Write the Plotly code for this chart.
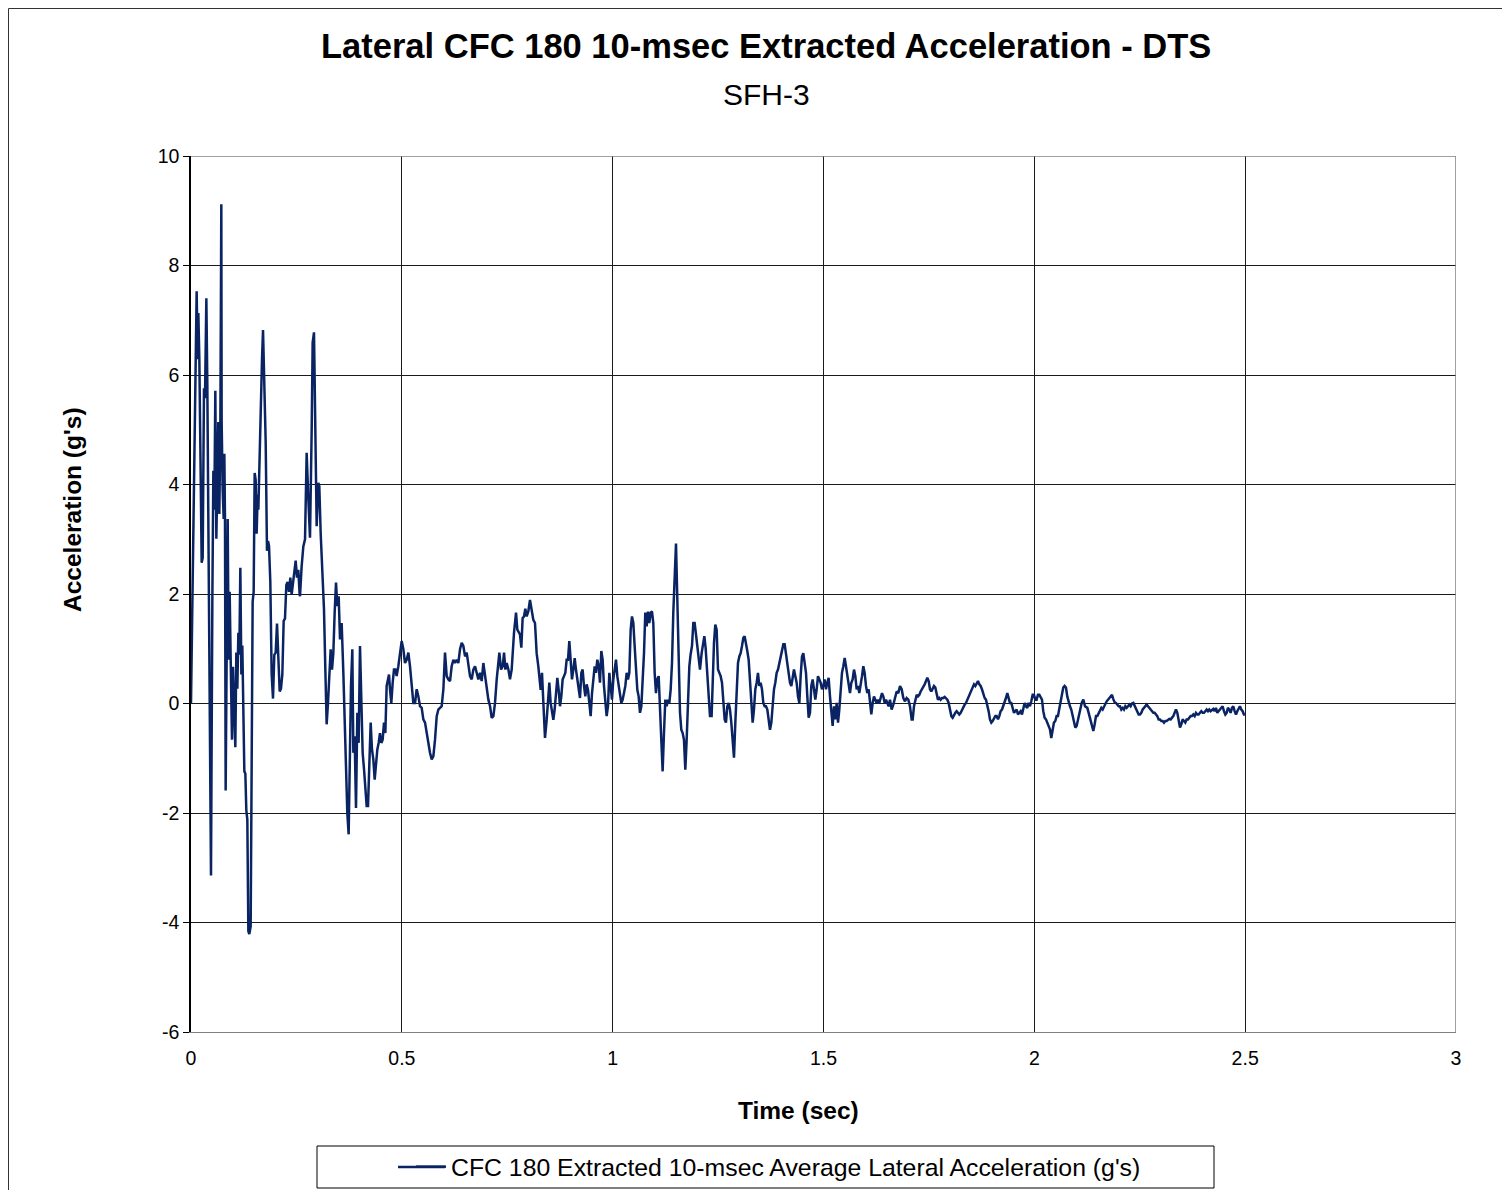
import plotly.graph_objects as go

# ---- data (time in s, acceleration in g) ----
time_s = [
    0.0, 0.0134, 0.0158, 0.0174, 0.0198, 0.0221, 0.0253, 0.0277, 0.0308, 0.0332,
    0.0364, 0.0387, 0.0427, 0.0451, 0.0474, 0.0506, 0.0530, 0.0553, 0.0577, 0.0601,
    0.0625, 0.0648, 0.0672, 0.0696, 0.0719, 0.0727, 0.0751, 0.0775, 0.0791, 0.0806,
    0.0822, 0.0846, 0.0870, 0.0893, 0.0917, 0.0941, 0.0972, 0.0996, 0.1028, 0.1051,
    0.1075, 0.1099, 0.1123, 0.1146, 0.1170, 0.1194, 0.1217, 0.1265, 0.1289, 0.1312,
    0.1336, 0.1360, 0.1383, 0.1415, 0.1462, 0.1486, 0.1510, 0.1534, 0.1557, 0.1581,
    0.1597, 0.1628, 0.1660, 0.1684, 0.1708, 0.1739, 0.1771, 0.1802, 0.1826, 0.1850,
    0.1881, 0.1913, 0.1945, 0.1976, 0.2008, 0.2040, 0.2071, 0.2103, 0.2134, 0.2166,
    0.2198, 0.2229, 0.2261, 0.2292, 0.2324, 0.2356, 0.2387, 0.2419, 0.2451, 0.2482,
    0.2514, 0.2545, 0.2577,
    0.2585, 0.2624, 0.2664, 0.2704, 0.2743, 0.2783, 0.2822, 0.2862, 0.2885, 0.2917,
    0.2941, 0.2980, 0.3020, 0.3043, 0.3075, 0.3114, 0.3154, 0.3186, 0.3217, 0.3249,
    0.3281, 0.3312, 0.3344, 0.3376, 0.3407, 0.3439, 0.3470, 0.3502, 0.3534, 0.3573,
    0.3613, 0.3644, 0.3676, 0.3707, 0.3739, 0.3771, 0.3794, 0.3826, 0.3850, 0.3881,
    0.3913, 0.3945, 0.3976, 0.4008, 0.4040, 0.4071, 0.4103, 0.4134, 0.4166, 0.4198,
    0.4229, 0.4261, 0.4292, 0.4324, 0.4356, 0.4387, 0.4419, 0.4450, 0.4482, 0.4514,
    0.4545, 0.4577, 0.4609, 0.4640, 0.4672, 0.4696, 0.4719, 0.4751, 0.4783, 0.4814,
    0.4846, 0.4877, 0.4917, 0.4957, 0.4996, 0.5036, 0.5075, 0.5115, 0.5155, 0.5194,
    0.5234, 0.5273, 0.5313, 0.5352, 0.5392, 0.5431, 0.5471, 0.5510, 0.5550, 0.5589,
    0.5629, 0.5668, 0.5708, 0.5748, 0.5787, 0.5827, 0.5866, 0.5906, 0.5945, 0.5985,
    0.6024, 0.6064, 0.6103, 0.6143, 0.6182, 0.6222, 0.6261, 0.6301, 0.6340, 0.6380,
    0.6420, 0.6459, 0.6499, 0.6538, 0.6578, 0.6617, 0.6657, 0.6696, 0.6736, 0.6775,
    0.6815, 0.6854, 0.6894, 0.6933, 0.6973, 0.7013, 0.7052, 0.7092, 0.7131, 0.7171,
    0.7210, 0.7250, 0.7289, 0.7313, 0.7352, 0.7392, 0.7424, 0.7456, 0.7487, 0.7527,
    0.7565, 0.7605, 0.7660, 0.7708, 0.7739, 0.7802, 0.7834, 0.7865, 0.7897, 0.7929,
    0.7960, 0.8000, 0.8039, 0.8079, 0.8118, 0.8158, 0.8197, 0.8237, 0.8261, 0.8292,
    0.8324, 0.8356, 0.8395, 0.8435, 0.8466, 0.8498, 0.8529, 0.8561, 0.8593, 0.8624,
    0.8656, 0.8688, 0.8719, 0.8751, 0.8782, 0.8814, 0.8846, 0.8877, 0.8909, 0.8941,
    0.8972, 0.9004, 0.9035, 0.9067, 0.9099, 0.9130, 0.9162, 0.9193, 0.9225, 0.9257,
    0.9288, 0.9320, 0.9352, 0.9383, 0.9415, 0.9446, 0.9478, 0.9510, 0.9541, 0.9573,
    0.9604, 0.9636, 0.9668, 0.9699, 0.9731, 0.9762, 0.9794, 0.9826, 0.9857, 0.9889,
    0.9921, 0.9952, 0.9984, 1.0015, 1.0047, 1.0079, 1.0110, 1.0142, 1.0174, 1.0205,
    1.0237, 1.0268, 1.0300, 1.0332, 1.0363, 1.0395, 1.0427, 1.0458, 1.0490, 1.0521,
    1.0553, 1.0585, 1.0616, 1.0648, 1.0680, 1.0711, 1.0743, 1.0774, 1.0806, 1.0838,
    1.0869, 1.0901, 1.0932, 1.0964, 1.0996, 1.1027, 1.1059, 1.1091, 1.1122, 1.1154,
    1.1185, 1.1217, 1.1249, 1.1280, 1.1312, 1.1344, 1.1375, 1.1407, 1.1438, 1.1502,
    1.1533, 1.1565, 1.1597, 1.1628, 1.1660, 1.1691, 1.1723, 1.1755, 1.1786, 1.1818,
    1.1849, 1.1881, 1.1913, 1.1944, 1.1976, 1.2008, 1.2039,
    1.2071, 1.2110, 1.2150, 1.2174, 1.2205, 1.2237, 1.2268, 1.2308, 1.2347, 1.2371,
    1.2403, 1.2434, 1.2466, 1.2498, 1.2529, 1.2561, 1.2593, 1.2624, 1.2656, 1.2687,
    1.2719, 1.2751, 1.2782, 1.2814, 1.2846, 1.2877, 1.2909, 1.2940, 1.2972, 1.3004,
    1.3035, 1.3067, 1.3099, 1.3130, 1.3162, 1.3193, 1.3225, 1.3257, 1.3288, 1.3320,
    1.3351, 1.3383, 1.3415, 1.3446, 1.3478, 1.3510, 1.3541, 1.3573, 1.3604, 1.3636,
    1.3668, 1.3699, 1.3731, 1.3763, 1.3794, 1.3826, 1.3857, 1.3889, 1.3921, 1.3952,
    1.3984, 1.4015, 1.4047, 1.4079, 1.4110, 1.4142, 1.4174, 1.4205, 1.4237, 1.4268,
    1.4300, 1.4332, 1.4363, 1.4395, 1.4427, 1.4458, 1.4490, 1.4521, 1.4553, 1.4585,
    1.4616, 1.4648, 1.4680, 1.4711, 1.4743, 1.4774, 1.4806, 1.4838, 1.4869, 1.4901,
    1.4932, 1.4964, 1.4996, 1.5027, 1.5059, 1.5091, 1.5122, 1.5154, 1.5185, 1.5217,
    1.5249, 1.5280, 1.5312, 1.5344, 1.5375, 1.5407, 1.5438, 1.5470, 1.5502, 1.5533,
    1.5565, 1.5597, 1.5628, 1.5660, 1.5691, 1.5723, 1.5755, 1.5786, 1.5818, 1.5849,
    1.5881, 1.5913, 1.5944, 1.5976, 1.6008, 1.6039, 1.6071, 1.6102, 1.6134, 1.6166,
    1.6197, 1.6229, 1.6260, 1.6292, 1.6324, 1.6355, 1.6387, 1.6419, 1.6450, 1.6482,
    1.6513, 1.6545,
    1.6577, 1.6616, 1.6656, 1.6695, 1.6735, 1.6774, 1.6814, 1.6854, 1.6893, 1.6933,
    1.6972, 1.7012, 1.7051, 1.7091, 1.7115, 1.7146, 1.7178, 1.7210, 1.7241, 1.7273,
    1.7304, 1.7336, 1.7368, 1.7399, 1.7431, 1.7462, 1.7494, 1.7526, 1.7557, 1.7589,
    1.7620, 1.7652, 1.7684, 1.7715, 1.7747, 1.7779, 1.7810, 1.7842, 1.7873, 1.7905,
    1.7937, 1.7968, 1.8000, 1.8032, 1.8063, 1.8095, 1.8126, 1.8158, 1.8189, 1.8221,
    1.8253, 1.8284, 1.8316, 1.8347, 1.8379, 1.8411, 1.8442, 1.8474, 1.8506, 1.8537,
    1.8569, 1.8600, 1.8632, 1.8664, 1.8695, 1.8727, 1.8758, 1.8790, 1.8822, 1.8853,
    1.8885, 1.8916, 1.8948, 1.8980, 1.9011, 1.9043, 1.9075, 1.9106, 1.9138, 1.9169,
    1.9201, 1.9233, 1.9264, 1.9296, 1.9327, 1.9359, 1.9391, 1.9422, 1.9454, 1.9485,
    1.9517, 1.9549, 1.9580, 1.9612, 1.9644, 1.9675, 1.9707, 1.9738, 1.9770, 1.9802,
    1.9833, 1.9865, 1.9896, 1.9928, 1.9960, 1.9991, 2.0023, 2.0054, 2.0086, 2.0118,
    2.0149, 2.0181, 2.0212, 2.0244, 2.0276, 2.0307, 2.0339, 2.0370, 2.0402, 2.0434,
    2.0465, 2.0497, 2.0528, 2.0560, 2.0592, 2.0623, 2.0655, 2.0686, 2.0718, 2.0750,
    2.0781, 2.0813, 2.0845, 2.0876, 2.0908, 2.0939, 2.0971, 2.1003, 2.1034, 2.1066,
    2.1123, 2.1162, 2.1202, 2.1257, 2.1288, 2.1320, 2.1359, 2.1399, 2.1431, 2.1462,
    2.1494, 2.1526, 2.1557, 2.1589, 2.1621, 2.1652, 2.1684, 2.1715, 2.1747, 2.1779,
    2.1810, 2.1842, 2.1873, 2.1905, 2.1937, 2.1968, 2.2000, 2.2031, 2.2063, 2.2095,
    2.2126, 2.2158, 2.2190, 2.2221, 2.2253, 2.2284, 2.2316, 2.2348, 2.2379, 2.2411,
    2.2442, 2.2474, 2.2506, 2.2537, 2.2569, 2.2600, 2.2632, 2.2664, 2.2695, 2.2727,
    2.2758, 2.2790, 2.2822, 2.2853, 2.2885, 2.2916, 2.2948, 2.2980, 2.3011, 2.3043,
    2.3075, 2.3106, 2.3138, 2.3169, 2.3201, 2.3233, 2.3264, 2.3296, 2.3327, 2.3359,
    2.3391, 2.3422, 2.3454, 2.3485, 2.3517, 2.3549, 2.3580, 2.3612, 2.3644, 2.3675,
    2.3707, 2.3738, 2.3770, 2.3802, 2.3833, 2.3865, 2.3896, 2.3928, 2.3960, 2.3991,
    2.4023, 2.4054, 2.4086, 2.4118, 2.4149, 2.4181, 2.4213, 2.4244, 2.4276, 2.4307,
    2.4339, 2.4371, 2.4402, 2.4434, 2.4465, 2.4497, 2.4529, 2.4560, 2.4592, 2.4623,
    2.4655, 2.4687, 2.4718, 2.4750, 2.4782, 2.4813, 2.4845, 2.4876, 2.4908, 2.4940,
    2.4971, 2.4995,
]

accel_g = [
    0.00, 7.53, 6.29, 7.13, 6.29, 4.34, 2.57, 2.66, 5.76, 5.58,
    7.40, 5.85, 1.86, -1.95, -3.14, 1.86, 4.25, 3.54, 5.71, 3.01,
    4.25, 5.14, 3.46, 5.05, 9.12, 5.14, 3.90, 3.37, 4.56, 3.37,
    -1.59, 2.13, 3.37, 0.80, 2.04, 0.80, -0.66, 0.67, -0.13, -0.80,
    0.93, 0.27, 1.29, 0.89, 2.48, 0.53, 1.06, -1.24, -1.28, -1.95,
    -2.12, -4.16, -4.21, -4.07, 1.86, 2.04, 4.21, 4.08, 3.10, 3.81,
    3.54, 4.70, 5.40, 6.29, 6.82, 5.85, 4.78, 2.79, 2.97, 2.88,
    2.22, 0.53, 0.09, 0.89, 0.93, 1.46, 0.80, 0.22, 0.27, 0.53,
    1.51, 1.55, 2.17, 2.22, 2.04, 2.30, 1.99, 2.22, 2.39, 2.61,
    2.30, 2.44, 1.99,
    1.96, 2.51, 2.87, 3.00, 4.58, 3.73, 3.03, 5.00, 6.59, 6.78,
    5.19, 3.24, 4.03, 3.97, 3.12, 2.38, 1.72, 0.62, -0.38, 0.01,
    0.62, 0.99, 0.62, 0.93, 1.66, 2.21, 1.78, 1.96, 1.17, 1.47,
    0.56, -0.29, -1.39, -2.00, -2.39, -0.41, 0.32, 0.99, -0.90, -0.60,
    -1.91, -0.17, -0.72, 1.05, -0.29, -0.90, -1.20, -1.51, -1.87, -1.87,
    -1.20, -0.35, -0.84, -1.02, -1.39, -1.08, -0.84, -0.72, -0.54, -0.72,
    -0.66, -0.35, -0.54, 0.32, 0.44, 0.53, 0.26, 0.01, 0.38, 0.62,
    0.62, 0.50, 0.68, 0.93, 1.14, 0.99, 0.74, 0.80, 0.93, 0.68,
    0.32, 0.01, 0.01, 0.26, 0.13, -0.05, -0.08, -0.29, -0.35, -0.54,
    -0.78, -0.90, -1.02, -0.96, -0.66, -0.23, -0.11, -0.08, -0.05, 0.26,
    0.93, 0.50, 0.44, 0.41, 0.68, 0.80, 0.74, 0.80, 0.74, 0.99,
    1.11, 1.05, 0.86, 0.93, 0.74, 0.50, 0.44, 0.62, 0.68, 0.56,
    0.44, 0.56, 0.41, 0.74, 0.50, 0.32, 0.07, -0.05, -0.26, -0.23,
    0.01, 0.44, 0.68, 0.93, 0.62, 0.68, 0.93, 0.62, 0.74, 0.62,
    0.44, 0.62, 1.29, 1.66, 1.35, 1.26, 1.02, 1.56, 1.59, 1.73,
    1.59, 1.68, 1.89, 1.72, 1.53, 1.47, 0.92, 0.68, 0.44, 0.25,
    0.56, -0.05, -0.63, -0.30, 0.13, 0.38, 0.01, -0.17, -0.30, -0.11,
    0.19, 0.47, 0.25, -0.05, 0.13, 0.44, 0.50, 0.56, 0.80, 0.80,
    1.14, 0.68, 0.44, 0.62, 0.83, 0.62, 0.44, 0.32, 0.10, 0.56,
    0.62, 0.32, 0.13, 0.35, 0.25, 0.01, -0.23, 0.19, 0.44, 0.68,
    0.56, 0.80, 0.68, 0.38, 0.96, 0.80, 0.32, -0.05, -0.23, -0.05,
    0.56, 0.32, 0.07, 0.44, 0.62, 0.80, 0.50, 0.32, 0.19, 0.01,
    0.07, 0.19, 0.32, 0.56, 0.44, 0.56, 1.35, 1.59, 1.47, 1.05,
    0.56, 0.25, 0.13, -0.17, -0.05, 0.38, 0.92, 1.66, 1.41, 1.68,
    1.47, 1.66, 1.68, 1.47, 0.56, 0.19, 0.44, 0.50, -0.05, -0.60,
    -1.24, -0.54, 0.07, -0.05, 0.07, 0.01, 0.25, 0.74, 1.66, 2.92,
    2.00, 0.74, -0.17, -0.48, -0.54, -0.66, -1.21, -0.66, 0.13, 0.68,
    0.90, 1.05, 1.47, 1.47, 1.26, 1.05, 0.80,
    0.62, 0.92, 1.17, 1.23, 1.01, 0.62, 0.13, -0.23, -0.23, 0.44,
    1.11, 1.44, 1.35, 0.62, 0.56, 0.50, 0.38, 0.01, -0.29, -0.35,
    -0.05, 0.01, -0.11, -0.35, -0.72, -0.99, -0.35, 0.26, 0.74, 0.86,
    0.92, 1.05, 1.20, 1.23, 1.05, 0.96, 0.80, 0.38, -0.05, -0.35,
    -0.11, 0.26, 0.38, 0.56, 0.32, 0.38, 0.26, 0.01, -0.05, -0.05,
    -0.11, -0.29, -0.48, -0.35, 0.01, 0.26, 0.38, 0.56, 0.62, 0.74,
    0.80, 0.92, 1.08, 1.08, 0.89, 0.74, 0.50, 0.38, 0.32, 0.44,
    0.62, 0.50, 0.38, 0.13, 0.01, 0.50, 0.86, 0.92, 0.74, 0.56,
    0.13, -0.26, -0.17, 0.32, 0.44, 0.26, 0.07, 0.26, 0.50, 0.44,
    0.38, 0.26, 0.32, 0.44, 0.26, 0.38, 0.47, 0.13, -0.11, -0.41,
    -0.05, -0.29, 0.01, -0.35, -0.11, 0.26, 0.56, 0.68, 0.83, 0.68,
    0.50, 0.38, 0.19, 0.38, 0.44, 0.62, 0.50, 0.26, 0.32, 0.19,
    0.32, 0.50, 0.68, 0.56, 0.32, 0.19, 0.26, 0.07, -0.20, 0.01,
    0.13, 0.07, 0.01, 0.07, 0.01, 0.10, 0.19, 0.13, 0.01, 0.07,
    0.01, -0.05,
    0.07, -0.11, -0.02, 0.13, 0.22, 0.19, 0.32, 0.26, 0.10, 0.04,
    0.10, 0.07, -0.05, -0.29, -0.29, -0.05, 0.07, 0.16, 0.13, 0.16,
    0.22, 0.26, 0.32, 0.35, 0.41, 0.47, 0.41, 0.26, 0.22, 0.29,
    0.32, 0.29, 0.16, 0.07, 0.10, 0.07, 0.10, 0.10, 0.12, 0.10,
    0.07, 0.01, -0.11, -0.23, -0.26, -0.20, -0.17, -0.14, -0.17, -0.20,
    -0.17, -0.11, -0.05, -0.02, 0.01, 0.07, 0.13, 0.19, 0.26, 0.32,
    0.35, 0.32, 0.38, 0.41, 0.35, 0.32, 0.26, 0.16, 0.10, 0.07,
    -0.02, -0.14, -0.29, -0.35, -0.32, -0.26, -0.23, -0.23, -0.29, -0.23,
    -0.14, -0.11, -0.05, 0.01, 0.10, 0.19, 0.10, 0.01, 0.01, -0.11,
    -0.17, -0.14, -0.11, -0.20, -0.17, -0.14, -0.20, -0.08, 0.01, -0.05,
    -0.08, 0.01, -0.05, 0.04, 0.16, 0.16, 0.07, 0.07, 0.16, 0.16,
    0.10, 0.07, -0.14, -0.26, -0.29, -0.35, -0.41, -0.47, -0.63, -0.47,
    -0.35, -0.32, -0.23, -0.23, -0.11, 0.01, 0.16, 0.29, 0.32, 0.29,
    0.13, 0.01, -0.05, -0.11, -0.23, -0.35, -0.44, -0.41, -0.29, -0.17,
    0.01, 0.07, -0.05, -0.08, -0.17, -0.29, -0.38, -0.50, -0.38, -0.23,
    -0.23, -0.17, -0.11, -0.08, -0.11, -0.05, 0.01, 0.04, 0.07, 0.10,
    0.14, 0.16, 0.08, 0.02, 0.01, -0.02, -0.05, -0.05, -0.11, -0.08,
    -0.11, -0.05, -0.08, -0.05, -0.02, -0.05, 0.00, 0.01, -0.05, -0.11,
    -0.17, -0.20, -0.20, -0.17, -0.11, -0.08, -0.05, -0.02, -0.05, -0.08,
    -0.11, -0.14, -0.17, -0.17, -0.20, -0.23, -0.29, -0.29, -0.32, -0.32,
    -0.35, -0.32, -0.32, -0.29, -0.28, -0.29, -0.26, -0.23, -0.17, -0.11,
    -0.17, -0.29, -0.44, -0.38, -0.29, -0.32, -0.35, -0.29, -0.29, -0.26,
    -0.23, -0.23, -0.20, -0.23, -0.17, -0.20, -0.20, -0.17, -0.14, -0.17,
    -0.17, -0.14, -0.11, -0.14, -0.11, -0.14, -0.11, -0.10, -0.14, -0.08,
    -0.17, -0.14, -0.11, -0.08, -0.05, -0.14, -0.20, -0.17, -0.08, -0.11,
    -0.17, -0.08, -0.05, -0.14, -0.20, -0.14, -0.08, -0.05, -0.11, -0.14,
    -0.20, -0.20,
]

x_ticks = [0, 0.5, 1, 1.5, 2, 2.5, 3]
x_tick_labels = ["0", "0.5", "1", "1.5", "2", "2.5", "3"]
y_ticks = [-6, -4, -2, 0, 2, 4, 6, 8, 10]
y_tick_labels = ["-6", "-4", "-2", "0", "2", "4", "6", "8", "10"]

title_text = "Lateral CFC 180 10-msec Extracted Acceleration - DTS"
subtitle_text = "SFH-3"
x_title = "Time (sec)"
y_title = "Acceleration (g's)"
series_name = "CFC 180 Extracted 10-msec Average Lateral Acceleration (g's)"

FONT = "Liberation Sans, Arial, sans-serif"
LINE_COLOR = "#0A2463"

fig = go.Figure()
fig.add_trace(go.Scatter(
    x=time_s, y=accel_g, mode="lines", name=series_name,
    line=dict(color=LINE_COLOR, width=2.5),
))

OFF = 8                      # page body margin of the html page
W, H = 1510 - 2 * OFF, 1198 - 2 * OFF
PL, PR, PT, PB = 191, 1456, 156, 1032   # target plot-area box in window pixels
L, T = PL - OFF, PT - OFF
R = W - L - (PR - PL)
B = H - T - (PB - PT)
pw, ph = PR - PL, PB - PT


def px(xp):
    return (xp - PL) / pw


def py(yp):
    return (PB - yp) / ph


fig.update_layout(
    width=W, height=H,
    margin=dict(l=L, r=R, t=T, b=B, pad=0, autoexpand=False),
    paper_bgcolor="white", plot_bgcolor="white",
    font=dict(family=FONT, color="black", size=19),
    showlegend=True,
    legend=dict(
        x=px(411), xanchor="left", y=py(1167), yanchor="middle",
        font=dict(family=FONT, size=24.8, color="black"),
        bgcolor="rgba(0,0,0,0)", borderwidth=0,
        itemwidth=30,
    ),
    xaxis=dict(
        range=[0, 3], tickmode="array", tickvals=x_ticks, ticktext=x_tick_labels,
        showgrid=True, gridcolor="#1a1a1a", gridwidth=1,
        showline=True, linecolor="#808080", linewidth=1,
        ticks="", zeroline=False, ticklabelstandoff=9,
        tickfont=dict(family=FONT, size=19.5, color="black"),
    ),
    yaxis=dict(
        range=[-6, 10], tickmode="array", tickvals=y_ticks, ticktext=y_tick_labels,
        showgrid=True, gridcolor="#1a1a1a", gridwidth=1,
        showline=True, linecolor="black", linewidth=1.5,
        ticks="outside", ticklen=6, tickcolor="black", tickwidth=1,
        zeroline=False,
        tickfont=dict(family=FONT, size=19.5, color="black"),
    ),
    annotations=[
        dict(text="<b>" + title_text + "</b>", x=px(766), y=py(46), xref="paper", yref="paper",
             showarrow=False, xanchor="center", yanchor="middle",
             font=dict(family=FONT, size=34.5, color="black")),
        dict(text=subtitle_text, x=px(766), y=py(95), xref="paper", yref="paper",
             showarrow=False, xanchor="center", yanchor="middle",
             font=dict(family=FONT, size=30, color="black")),
        dict(text="<b>" + x_title + "</b>", x=px(798), y=py(1110), xref="paper", yref="paper",
             showarrow=False, xanchor="center", yanchor="middle",
             font=dict(family=FONT, size=24.5, color="black")),
        dict(text="<b>" + y_title + "</b>", x=px(73), y=py(510), xref="paper", yref="paper",
             showarrow=False, xanchor="center", yanchor="middle", textangle=-90,
             font=dict(family=FONT, size=24.5, color="black")),
    ],
    shapes=[
        # outer chart border: only left and top edges are inside the page
        dict(type="line", xref="paper", yref="paper",
             x0=px(OFF + 0.5), x1=px(OFF + 0.5), y0=py(1300), y1=py(OFF + 0.5),
             line=dict(color="#333333", width=1), layer="below"),
        dict(type="line", xref="paper", yref="paper",
             x0=px(OFF + 0.5), x1=px(1600), y0=py(OFF + 0.5), y1=py(OFF + 0.5),
             line=dict(color="#333333", width=1), layer="below"),
        # plot area frame (top & right)
        dict(type="line", xref="x", yref="y", x0=0, x1=3, y0=10, y1=10,
             line=dict(color="#808080", width=1.5), layer="above"),
        dict(type="line", xref="x", yref="y", x0=3, x1=3, y0=-6, y1=10,
             line=dict(color="#808080", width=1.5), layer="above"),
        # legend box
        dict(type="rect", xref="paper", yref="paper",
             x0=px(317), x1=px(1214), y0=py(1188), y1=py(1146),
             line=dict(color="black", width=1), fillcolor="rgba(0,0,0,0)"),
        # longer legend line sample
        dict(type="line", xref="paper", yref="paper",
             x0=px(398), x1=px(445), y0=py(1167), y1=py(1167),
             line=dict(color=LINE_COLOR, width=2.5)),
    ],
)

fig.write_html("out.html")
